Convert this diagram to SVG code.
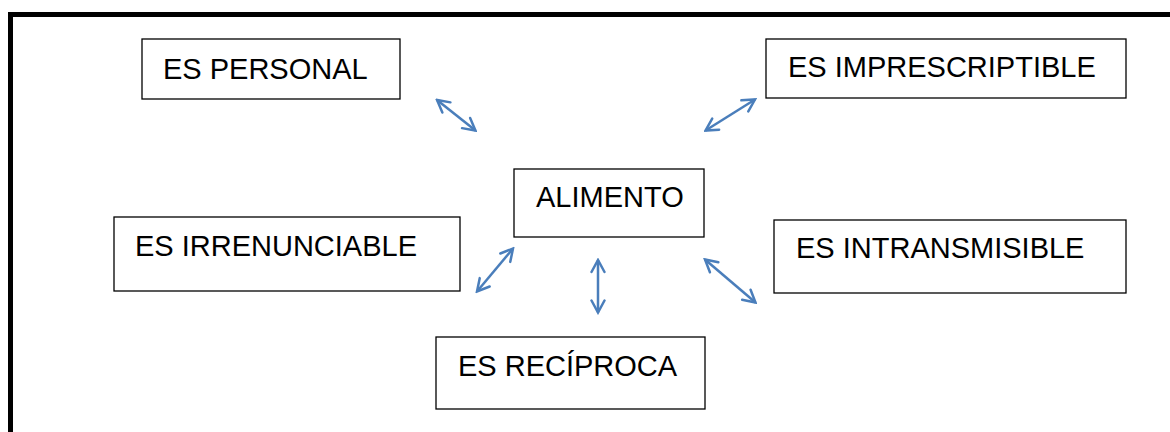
<svg xmlns="http://www.w3.org/2000/svg" width="1170" height="432" viewBox="0 0 1170 432">
<defs>
<style>
.box{fill:#fff;stroke:#000;stroke-width:1.3}
.lbl{font-family:"Liberation Sans",Arial,sans-serif;font-size:29px;fill:#000}
.con{stroke:#4A7EBB;stroke-width:2.5;fill:none}
</style>
<marker id="ah" markerUnits="userSpaceOnUse" viewBox="-16 -9 18 18" refX="0" refY="0" markerWidth="18" markerHeight="18" orient="auto-start-reverse">
<path d="M-12,-6.5 L0,0 L-12,6.5" fill="none" stroke="#4A7EBB" stroke-width="2.5" stroke-linecap="round" stroke-linejoin="miter"/>
</marker>
</defs>
<rect x="0" y="0" width="1170" height="432" fill="#fff"/>
<rect x="10.5" y="14.5" width="1200" height="460" fill="none" stroke="#000" stroke-width="5"/>
<g id="n-personal"><rect class="box" x="142" y="39" width="258" height="60"/><text class="lbl" x="163" y="79">ES PERSONAL</text></g>
<g id="n-imprescriptible"><rect class="box" x="766" y="39" width="360" height="59"/><text class="lbl" x="788" y="77">ES IMPRESCRIPTIBLE</text></g>
<g id="n-alimento"><rect class="box" x="514" y="169" width="190" height="68"/><text class="lbl" x="536" y="207">ALIMENTO</text></g>
<g id="n-irrenunciable"><rect class="box" x="114" y="217" width="346" height="74"/><text class="lbl" x="135" y="256">ES IRRENUNCIABLE</text></g>
<g id="n-intransmisible"><rect class="box" x="774" y="220" width="352" height="73"/><text class="lbl" x="796" y="258">ES INTRANSMISIBLE</text></g>
<g id="n-reciproca"><rect class="box" x="436" y="337" width="269" height="72"/><text class="lbl" x="458" y="376">ES RECÍPROCA</text></g>
<g id="connectors">
<line class="con" x1="437" y1="100" x2="475.5" y2="130.5" marker-start="url(#ah)" marker-end="url(#ah)"/>
<line class="con" x1="755" y1="99.5" x2="705.5" y2="130.5" marker-start="url(#ah)" marker-end="url(#ah)"/>
<line class="con" x1="513" y1="248.5" x2="477" y2="291.5" marker-start="url(#ah)" marker-end="url(#ah)"/>
<line class="con" x1="598" y1="260" x2="598" y2="312.5" marker-start="url(#ah)" marker-end="url(#ah)"/>
<line class="con" x1="705" y1="259.5" x2="755.5" y2="302.5" marker-start="url(#ah)" marker-end="url(#ah)"/>
</g>
</svg>
